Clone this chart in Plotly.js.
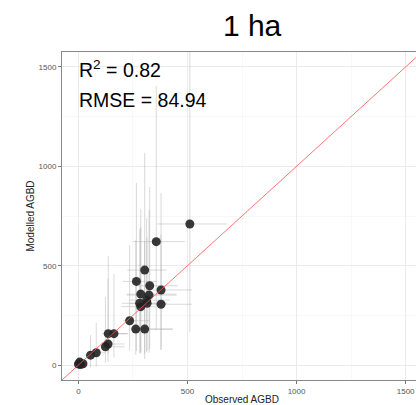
<!DOCTYPE html>
<html>
<head>
<meta charset="utf-8">
<script src="https://cdn.plot.ly/plotly-3.0.1.min.js"></script>
<style>
html,body{margin:0;padding:0;overflow:hidden;background:#fff;width:416px;height:405px;}
#chart{width:424px;height:405px;}
</style>
</head>
<body>
<div id="chart"></div>
<script>
// Observed vs modelled AGBD (1 ha)
const observed = [0, 6, 21, 10, 56, 82, 124, 136, 137, 163, 235, 263, 304, 281, 286, 315, 313, 379, 324, 286, 327, 379, 266, 304, 357, 511];
const modelled = [5, 15, 7, 3, 50, 62, 92, 106, 158, 158, 223, 181, 181, 311, 294, 311, 327, 306, 352, 357, 399, 378, 421, 478, 621, 710];
const obsErrMinus = [10, 15, 10, 5, 30, 30, 13, 25, 26, 52, 31, 14, 55, 81, 88, 80, 78, 84, 103, 65, 55, 38, 62, 80, 108, 151];
const obsErrPlus  = [10, 15, 10, 5, 40, 40, 88, 76, 89, 63, 92, 170, 129, 124, 71, 90, 106, 141, 126, 164, 129, 141, 94, 100, 131, 171];
const modErrMinus = [10, 20, 15, 5, 60, 70, 80, 90, 100, 120, 150, 130, 150, 250, 230, 240, 260, 230, 290, 300, 320, 300, 350, 420, 445, 544];
const modErrPlus  = [10, 20, 15, 5, 100, 150, 250, 330, 390, 300, 380, 450, 440, 374, 400, 330, 413, 350, 428, 428, 497, 488, 495, 589, 784, 870];
const oneToOne = [-100, 1700];
const tickVals = [0, 500, 1000, 1500];
const tickText = ['0', '500', '1000', '1500'];
const titleText = '1 ha';
const statLines = ['R<sup>2</sup> = 0.82', 'RMSE = 84.94'];

const points = {
  x: observed, y: modelled, type: 'scatter', mode: 'markers',
  marker: {color: '#222222', size: 9, opacity: 0.9},
  error_x: {type: 'data', symmetric: false, array: obsErrPlus, arrayminus: obsErrMinus,
            color: 'rgba(170,170,170,0.45)', thickness: 1, width: 0},
  error_y: {type: 'data', symmetric: false, array: modErrPlus, arrayminus: modErrMinus,
            color: 'rgba(170,170,170,0.45)', thickness: 1, width: 0},
  hoverinfo: 'skip', showlegend: false
};
const line = {
  x: oneToOne, y: oneToOne, type: 'scatter', mode: 'lines',
  line: {color: 'rgba(255,80,80,0.8)', width: 1}, hoverinfo: 'skip', showlegend: false
};

function axis(titleTxt, standoff) {
  return {
    range: [-75, 1575], tickvals: tickVals, ticktext: tickText,
    tickfont: {family: 'Liberation Sans, Arial, sans-serif', size: 8, color: '#555555'},
    ticks: 'outside', ticklen: 3, tickcolor: '#777777', tickwidth: 1,
    showgrid: true, gridcolor: '#ebebeb', gridwidth: 1,
    minor: {dtick: 250, tick0: 0, showgrid: true, gridcolor: '#f4f4f4', gridwidth: 0.6, ticks: ''},
    zeroline: false, showline: true, mirror: true, linecolor: '#888888', linewidth: 1,
    title: {text: titleTxt, standoff: standoff,
            font: {family: 'Liberation Sans, Arial, sans-serif', size: 10, color: '#222222'}},
    fixedrange: true
  };
}

const layout = {
  width: 424, height: 405,
  margin: {l: 62, r: 2, t: 52, b: 25},
  paper_bgcolor: '#ffffff', plot_bgcolor: '#ffffff',
  title: {text: titleText, x: 0.528, xref: 'paper', xanchor: 'center', y: 0.938, yref: 'container', yanchor: 'middle',
          font: {family: 'Liberation Sans, Arial, sans-serif', size: 30, color: '#000000'}},
  xaxis: axis('Observed AGBD', 5),
  yaxis: axis('Modelled AGBD', 2),
  annotations: [
    {text: statLines[0], xref: 'paper', yref: 'paper', x: 0.042, y: 0.948, xanchor: 'left', yanchor: 'middle',
     showarrow: false, font: {family: 'Liberation Sans, Arial, sans-serif', size: 19.5, color: '#000000'}},
    {text: statLines[1], xref: 'paper', yref: 'paper', x: 0.042, y: 0.855, xanchor: 'left', yanchor: 'middle',
     showarrow: false, font: {family: 'Liberation Sans, Arial, sans-serif', size: 19.5, color: '#000000'}}
  ]
};

Plotly.newPlot('chart', [points, line], layout, {staticPlot: true, displayModeBar: false});
</script>
</body>
</html>
